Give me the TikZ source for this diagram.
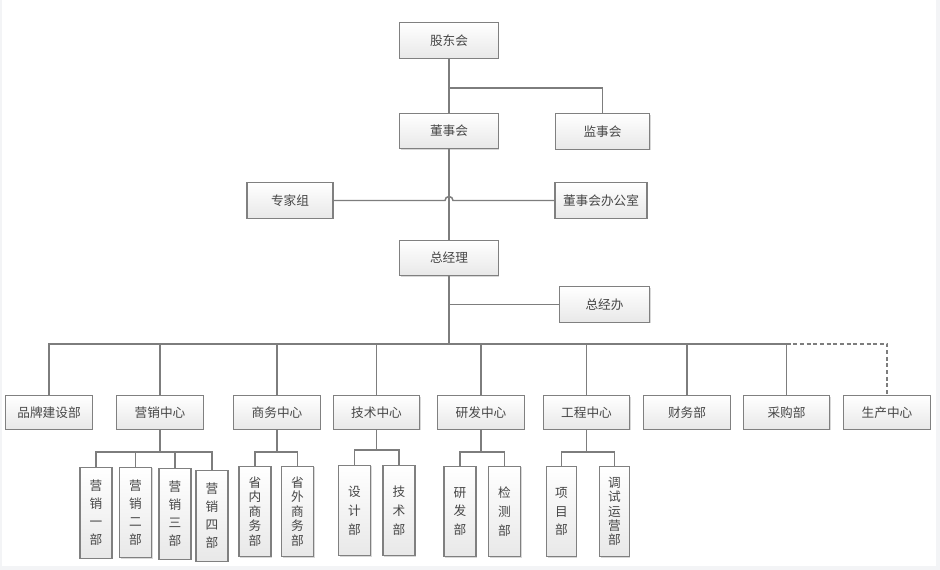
\documentclass[tikz,border=0pt]{standalone}
\usepackage{fontspec}
\newfontfamily\cjk{Noto Sans CJK SC}
\usetikzlibrary{shadows}
\definecolor{boxline}{RGB}{128,128,128}
\definecolor{conn}{RGB}{125,125,125}
\definecolor{txt}{RGB}{70,70,70}
\definecolor{edge}{RGB}{243,244,246}
\begin{document}
\begin{tikzpicture}[x=0.75pt,y=-0.75pt,
  orgbox/.style={draw=boxline, line width=0.8pt, top color=white, bottom color=black!9,
    drop shadow={shadow xshift=0.8pt, shadow yshift=-0.8pt, fill=black!30, opacity=0.5},
    text=txt, font=\cjk\fontsize{9.5}{11}\selectfont, inner sep=0pt, align=center},
  topbox/.style={orgbox, minimum width=74pt, minimum height=26.5pt},
  midbox/.style={orgbox, minimum width=65pt, minimum height=25pt},
  vbox/.style={orgbox, minimum width=24pt, minimum height=68pt},
  vfour/.style={vbox, font=\cjk\fontsize{9.5}{13.5}\selectfont},
  vfive/.style={vbox, font=\cjk\fontsize{9.5}{10.8}\selectfont},
  vthree/.style={vbox, font=\cjk\fontsize{9.5}{14.2}\selectfont},
  link/.style={draw=conn, line width=1.1pt},
  dlink/.style={link, dashed, dash pattern=on 3pt off 2pt}]
% background / edges
\fill[edge] (0,0) rectangle (940,570);
\fill[white] (2,0) rectangle (936,566);
\useasboundingbox (0,0) rectangle (940,570);

% top levels
\node[topbox] (gd) at (449,40.5) {股东会};
\node[topbox] (dsh) at (449,131) {董事会};
\node[topbox, minimum width=71pt] (jsh) at (602.5,131.5) {监事会};
\node[topbox, minimum width=64.5pt] (zjz) at (290,200.5) {专家组};
\node[topbox, minimum width=69pt] (bgs) at (601,200.5) {董事会办公室};
\node[topbox] (zjl) at (449,258) {总经理};
\node[topbox, minimum width=68pt] (zjb) at (604.5,304.5) {总经办};

% level 2
\node[midbox] (pp) at (49,412.5) {品牌建设部};
\node[midbox] (yx) at (160,412.5) {营销中心};
\node[midbox] (sw) at (277,412.5) {商务中心};
\node[midbox] (js) at (376.5,412.5) {技术中心};
\node[midbox] (yf) at (481,412.5) {研发中心};
\node[midbox] (gc) at (586.5,412.5) {工程中心};
\node[midbox] (cw) at (687,412.5) {财务部};
\node[midbox] (cg) at (786.5,412.5) {采购部};
\node[midbox] (sc) at (887,412.5) {生产中心};

% level 3
\node[vfour] (y1) at (96,513) {营\\销\\一\\部};
\node[vfour] (y2) at (135.5,512.5) {营\\销\\二\\部};
\node[vfour] (y3) at (175,514) {营\\销\\三\\部};
\node[vfour] (y4) at (212,516) {营\\销\\四\\部};
\node[vfive] (s1) at (255,511.5) {省\\内\\商\\务\\部};
\node[vfive] (s2) at (297.5,511.5) {省\\外\\商\\务\\部};
\node[vthree] (j1) at (354.5,510.5) {设\\计\\部};
\node[vthree] (j2) at (399,510.5) {技\\术\\部};
\node[vthree] (r1) at (460,511.5) {研\\发\\部};
\node[vthree] (r2) at (504.5,511.5) {检\\测\\部};
\node[vthree, minimum width=22pt] (g1) at (561.5,511.5) {项\\目\\部};
\node[vfive, minimum width=22pt] (g2) at (614.5,511.5) {调\\试\\运\\营\\部};

% coordinates
\coordinate (jbr) at (0,88);
\coordinate (hopL) at (445,200.5);
\coordinate (hopR) at (453,200.5);
\coordinate (zbr) at (0,304.5);
\coordinate (bus) at (0,344);
\coordinate (b1) at (0,452);
\coordinate (b2) at (0,450);

% connectors top
\draw[link] (gd.south) -- (dsh.north);
\draw[link] (gd.south |- jbr) -| (jsh.north);
\draw[link] (dsh.south) -- (zjl.north);
\draw[link] (zjz.east) -- (hopL) arc[start angle=180, end angle=360, radius=4] -- (bgs.west);
\draw[link] (zjl.south) -- (zjl.south |- bus);
\draw[link] (zjl.south |- zbr) -- (zjb.west);

% bus
\draw[link] (pp.north) -- (pp.north |- bus) -- (cg.north |- bus) -- (cg.north);
\foreach \n in {yx,sw,js,yf,gc,cw}{\draw[link] (\n.north) -- (\n.north |- bus);}
\draw[dlink] (cg.north |- bus) -| (sc.north);

% sub brackets
\draw[link] (yx.south) -- (yx.south |- b1);
\draw[link] (y1.north) -- (y1.north |- b1) -- (y4.north |- b1) -- (y4.north);
\draw[link] (y2.north) -- (y2.north |- b1);
\draw[link] (y3.north) -- (y3.north |- b1);
\draw[link] (sw.south) -- (sw.south |- b1);
\draw[link] (s1.north) -- (s1.north |- b1) -- (s2.north |- b1) -- (s2.north);
\draw[link] (js.south) -- (js.south |- b2);
\draw[link] (j1.north) -- (j1.north |- b2) -- (j2.north |- b2) -- (j2.north);
\draw[link] (yf.south) -- (yf.south |- b1);
\draw[link] (r1.north) -- (r1.north |- b1) -- (r2.north |- b1) -- (r2.north);
\draw[link] (gc.south) -- (gc.south |- b1);
\draw[link] (g1.north) -- (g1.north |- b1) -- (g2.north |- b1) -- (g2.north);
\end{tikzpicture}
\end{document}
